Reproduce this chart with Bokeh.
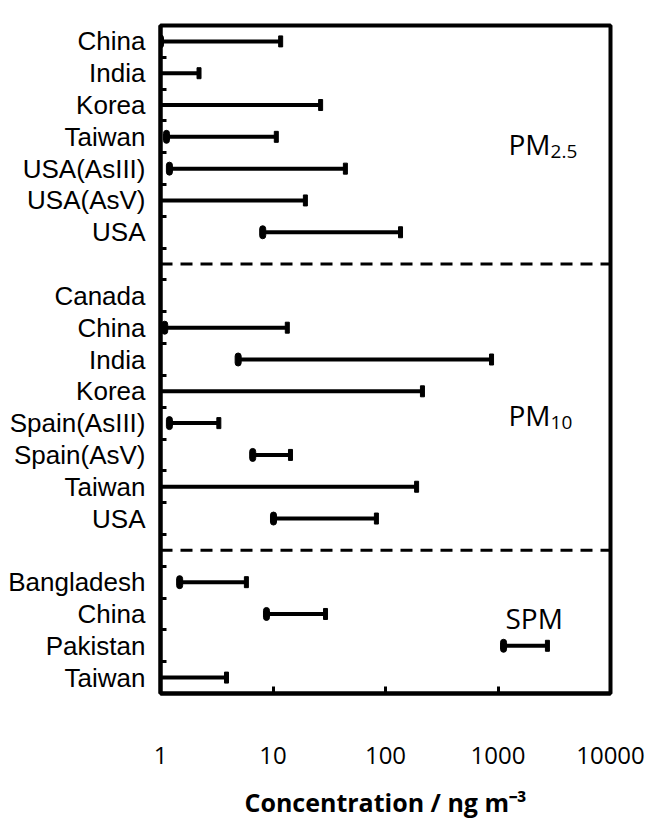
import math
from bokeh.plotting import figure
from bokeh.models import Range1d, FixedTicker, Span, Label, ColumnDataSource
from bokeh.embed import file_html
from bokeh.resources import INLINE

nan = float("nan")

# ---- data ----
pm25_sites = ["China", "India", "Korea", "Taiwan", "USA(AsIII)", "USA(AsV)", "USA"]
pm25_low = [1.0, 0.8, 0.8, 1.13, 1.2, 0.8, 8.1]
pm25_high = [11.7, 2.2, 26.5, 10.7, 44.0, 19.4, 136.0]

pm10_sites = ["Canada", "China", "India", "Korea", "Spain(AsIII)", "Spain(AsV)", "Taiwan", "USA"]
pm10_low = [nan, 1.09, 4.9, 0.8, 1.2, 6.6, 0.8, 10.1]
pm10_high = [nan, 13.4, 876.0, 213.0, 3.3, 14.3, 189.0, 83.0]

spm_sites = ["Bangladesh", "China", "Pakistan", "Taiwan"]
spm_low = [1.48, 8.75, 1120.0, 0.8]
spm_high = [5.8, 29.3, 2750.0, 3.86]

x_ticks = [1, 10, 100, 1000, 10000]

# ---- row positions (one blank row between groups for the dashed separator) ----
groups = [(pm25_sites, pm25_low, pm25_high),
          (pm10_sites, pm10_low, pm10_high),
          (spm_sites, spm_low, spm_high)]
rows, names, lows, highs, separators = [], [], [], [], []
r = 0
for gi, (s, lo, hi) in enumerate(groups):
    for name, a, b in zip(s, lo, hi):
        rows.append(r); names.append(name); lows.append(a); highs.append(b)
        r += 1
    if gi < len(groups) - 1:
        separators.append(r)
        r += 1
n_rows = r

valid = [i for i in range(len(rows)) if not (math.isnan(lows[i]) or math.isnan(highs[i]))]
src = ColumnDataSource(dict(
    row=[rows[i] for i in valid],
    lo=[lows[i] for i in valid],
    hi=[highs[i] for i in valid],
))

p = figure(frame_width=450, frame_height=668, x_axis_type="log",
           x_range=Range1d(1, 10000), y_range=Range1d(n_rows - 0.5, -0.5),
           output_backend="svg", toolbar_location=None,
           min_border_left=160, min_border_right=43,
           min_border_top=25, min_border_bottom=120)
p.xgrid.visible = False
p.ygrid.visible = False
p.outline_line_color = "black"
p.outline_line_width = 4
p.outline_line_alpha = 1.0

# x axis
xa = p.xaxis[0]
xa.ticker = FixedTicker(ticks=x_ticks, minor_ticks=[])
xa.major_label_overrides = {t: str(t) for t in x_ticks}
xa.axis_line_width = 4
xa.axis_line_color = "black"
xa.major_tick_in = 7
xa.major_tick_out = 0
xa.major_tick_line_width = 3
xa.major_tick_line_color = "black"
xa.minor_tick_in = 0
xa.minor_tick_out = 0
xa.major_label_text_font = "Open Sans"
xa.major_label_text_font_size = "24px"
xa.major_label_text_color = "black"
xa.major_label_standoff = 53
xa.axis_label = "Concentration / ng m\u207b\u00b3"
xa.axis_label_text_font = "Open Sans"
xa.axis_label_text_font_style = "bold"
xa.axis_label_text_font_size = "25px"
xa.axis_label_text_color = "black"
xa.axis_label_standoff = 18

# y axis
ya = p.yaxis[0]
ya.ticker = FixedTicker(ticks=rows, minor_ticks=[r0 + 0.5 for r0 in range(n_rows - 1)])
ya.major_label_overrides = {rw: nm for rw, nm in zip(rows, names)}
ya.axis_line_width = 4
ya.axis_line_color = "black"
ya.major_tick_in = 0
ya.major_tick_out = 0
ya.minor_tick_in = 6
ya.minor_tick_out = 0
ya.minor_tick_line_width = 3
ya.minor_tick_line_color = "black"
ya.major_label_text_font = "Liberation Sans"
ya.major_label_text_font_size = "26px"
ya.major_label_text_color = "black"
ya.major_label_standoff = 15

# bars
p.segment(x0="lo", y0="row", x1="hi", y1="row", source=src,
          line_color="black", line_width=4)
p.rect(x="lo", y="row", width=6, height=13, width_units="screen",
       height_units="screen", border_radius=3, source=src,
       fill_color="black", line_color="black")
p.rect(x="hi", y="row", width=4, height=11, width_units="screen",
       height_units="screen", source=src, fill_color="black", line_color="black")

# separators
for s in separators:
    p.add_layout(Span(location=s, dimension="width", line_color="black",
                      line_width=3, line_dash="12 8"))

# group labels
def add_label(x, y, text, size):
    p.add_layout(Label(x=x, y=y, text=text, text_font="Open Sans",
                       text_font_size=size, text_color="black",
                       text_align="left", text_baseline="alphabetic"))

add_label(1240, 3.21, "PM", "28px")
add_label(2930, 3.45, "2.5", "19px")
add_label(1240, 11.76, "PM", "28px")
add_label(2930, 11.97, "10", "19px")
add_label(1166, 18.12, "SPM", "28px")

open("out.html", "w").write(file_html(p, INLINE))
